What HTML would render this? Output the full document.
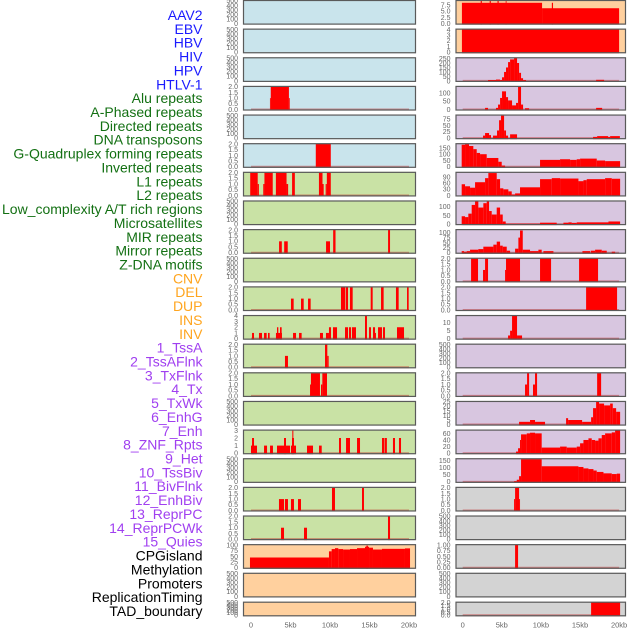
<!DOCTYPE html>
<html><head><meta charset="utf-8">
<style>
html,body{margin:0;padding:0;background:#fff;}
svg{display:block;}
</style></head>
<body>
<svg id="chart" width="630" height="630" xmlns="http://www.w3.org/2000/svg" font-family="Liberation Sans, sans-serif"></svg>
<script>
// ---- row labels ----
const labels = ["AAV2","EBV","HBV","HIV","HPV","HTLV-1","Alu repeats","A-Phased repeats","Directed repeats","DNA transposons","G-Quadruplex forming repeats","Inverted repeats","L1 repeats","L2 repeats","Low_complexity A/T rich regions","Microsatellites","MIR repeats","Mirror repeats","Z-DNA motifs","CNV","DEL","DUP","INS","INV","1_TssA","2_TssAFlnk","3_TxFlnk","4_Tx","5_TxWk","6_EnhG","7_Enh","8_ZNF_Rpts","9_Het","10_TssBiv","11_BivFlnk","12_EnhBiv","13_ReprPC","14_ReprPCWk","15_Quies","CPGisland","Methylation","Promoters","ReplicationTiming","TAD_boundary"];
const labelGroups = [6,13,5,15,5];
const groupColors = ["#1a1aff","#137013","#ffa51f","#a03ff0","#000000"];

// ---- x axis ----
const xTickVals = [0,5,10,15,20];
const xTickLabels = ["0","5kb","10kb","15kb","20kb"];

// ---- tick sets ----
const T500 = [0,100,200,300,400,500];
const T2 = [0,0.5,1,1.5,2];

// ---- left column panels: ticks, ymax, segments [startKb,endKb,value] ----
const leftTicks = [T500,T500,T500,T2,T500,T2,T2,T500,T2,T500,T2,[0,1,2,3,4],T2,T2,T500,[0,1,2,3],T500,T2,T2,[0,25,50,75,100],T500,T500];
const leftMax = [500,500,500,2,500,2,2,500,2,500,2,4,2,2,500,3,500,2,2,100,500,500];
const leftBg = ["#c9e4ec","#c9e4ec","#c9e4ec","#c9e4ec","#c9e4ec","#c9e4ec","#c9e2a5","#c9e2a5","#c9e2a5","#c9e2a5","#c9e2a5","#c9e2a5","#c9e2a5","#c9e2a5","#c9e2a5","#c9e2a5","#c9e2a5","#c9e2a5","#c9e2a5","#ffd09e","#ffd09e","#ffd09e"];
const L4 = [[2.4,2.5,1],[2.5,4.8,2],[4.8,4.9,1]];
const L6 = [[8.2,10.1,2]];
const L7 = [[-0.1,0.85,2],[0.85,1.0,1],[1.55,1.7,1],[1.7,2.75,2],[3.15,4.5,2],[4.5,4.7,1],[5.2,5.55,2],[8.6,9.05,2],[9.05,9.2,1],[9.45,9.6,1],[9.6,10.1,2]];
const L9 = [[3.55,3.9,1],[4.2,4.65,1],[9.5,10,1],[10.4,10.7,2],[17.35,17.6,2]];
const L11 = [[5.06,5.4,1],[6.33,6.67,1],[7.22,7.55,1],[11.39,11.9,2],[11.98,12.28,2],[12.53,12.87,2],[15.15,15.4,2],[16.46,16.79,2],[18.35,18.69,2],[19.75,19.96,2]];
const L12 = [[0.13,0.38,1],[1.01,1.39,1],[1.65,1.98,1],[2.15,2.36,1],[3.16,3.92,1],[3.29,3.46,2],[3.67,3.88,2],[5.32,5.7,1],[6.08,6.41,1],[8.73,9.11,1],[9.49,9.87,1],[9.87,10.13,2],[10.38,10.89,2],[11.9,12.28,2],[12.4,12.66,2],[12.78,13.29,2],[14.43,14.68,4],[14.94,15.19,2],[15.44,15.7,2],[15.7,15.82,1],[16.08,16.58,2],[16.71,16.96,2],[18.48,19.37,2]];
const L13 = [[4.3,4.68,1],[9.37,9.66,2],[9.66,9.83,1]];
const L14 = [[7.47,7.59,1],[7.59,8.73,2],[8.86,9.03,1],[9.03,9.62,2]];
const L16 = [[0,0.76,1],[0.13,0.38,2],[1.65,2.03,1],[2.41,2.78,1],[3.29,4.94,1],[4.18,4.43,2],[5.06,5.7,1],[5.19,5.44,2],[5.23,5.36,3],[7.09,7.85,1],[8.61,8.95,1],[11.14,11.39,2],[12.03,12.53,2],[13.42,13.8,2],[16.58,16.84,2],[16.9,17.2,2],[17.97,18.23,2],[18.73,18.99,2]];
const L18 = [[3.54,4.18,1],[4.3,4.68,1],[5.06,5.44,1],[5.95,6.33,1],[10.25,10.63,2],[14.05,14.3,2]];
const L19 = [[3.8,4.18,1],[6.71,7.09,1],[17.34,17.6,2]];
const L20 = [[-0.13,9.87,45],[9.87,10.21,72],[10.21,10.63,82],[10.63,11.05,86],[11.05,11.65,82],[11.65,12.53,80],[12.53,13.42,82],[13.42,14.43,86],[14.43,14.94,92],[14.6,14.8,97],[14.94,15.44,88],[15.44,16.58,80],[16.58,19.49,83],[19.49,20.13,85]];
const leftSegs = [[],[],[],L4,[],L6,L7,[],L9,[],L11,L12,L13,L14,[],L16,[],L18,L19,L20,[],[]];

// ---- right column panels ----
const rightTicks = [[0,2.5,5,7.5],[0,1,2,3,4],[0,50,100,150,200,250],[0,50,100],[0,25,50,75],[0,50,100,150],[0,30,60,90],[0,50,100],[0,25,50,75,100],T2,T2,[0,5,10],T500,T2,[0,5,10,15,20,25],[0,20,40,60],[0,50,100,150],T2,T500,[0,0.25,0.5,0.75,1],T500,T2];
const rightMax = [9.2,4,255,138,89,181,112,131,113,2,2,14.4,500,2,25,69,161,2,500,1,500,2];
const rightBg = ["#ffd09e","#ffd09e","#d8c6e0","#d8c6e0","#d8c6e0","#d8c6e0","#d8c6e0","#d8c6e0","#d8c6e0","#d8c6e0","#d8c6e0","#d8c6e0","#d8c6e0","#d8c6e0","#d8c6e0","#d8c6e0","#d8c6e0","#d3d3d3","#d3d3d3","#d3d3d3","#d3d3d3","#d3d3d3"];
const R1 = [[-0.1,10.15,8.4],[10.15,20,6.2],[2.3,2.45,9.2],[3.45,3.6,9.2],[4.45,4.6,9.2],[5.5,5.6,9.2],[11.4,11.55,8.4]];
const R2 = [[-0.1,20,4]];
const R3 = [[3.24,4.26,10],[4.26,4.78,15],[4.78,5.03,10],[5.03,5.29,40],[5.29,5.54,100],[5.54,5.8,150],[5.8,6.06,210],[6.06,6.57,240],[6.57,6.95,255],[6.95,7.21,200],[7.21,7.46,90],[7.46,7.72,30],[7.72,8.1,10],[17.06,18.08,12]];
const R4 = [[2.86,3.24,10],[4.26,4.52,10],[4.52,4.78,30],[4.78,5.03,70],[5.03,5.54,110],[5.54,5.8,75],[5.8,6.31,55],[6.31,6.82,25],[6.82,7.08,40],[7.08,7.46,138],[7.46,7.72,30],[7.97,8.49,8],[17.06,17.83,10]];
const R5 = [[2.6,2.86,10],[2.86,3.37,20],[3.37,3.62,12],[3.88,4.39,10],[4.39,4.65,30],[4.65,4.9,70],[4.9,5.29,88],[5.29,5.54,30],[5.54,5.8,10],[6.06,6.95,15],[16.67,17.19,5],[17.19,18.59,8],[18.59,18.85,5],[18.85,20.1,8]];
const R6 = [[-0.13,0.3,175],[0.3,0.81,180],[0.81,1.36,165],[1.36,1.79,140],[1.79,2.22,110],[2.22,3.07,100],[3.07,4.56,70],[4.56,4.99,40],[4.99,5.42,10],[9.89,12.45,55],[12.45,13.73,60],[13.73,14.58,55],[14.58,15.01,60],[15.01,17.14,65],[17.14,18.21,50],[18.21,20.13,45]];
const R7 = [[-0.13,0.3,55],[0.3,0.94,45],[0.94,1.58,38],[1.58,2.86,65],[2.86,3.28,85],[3.28,4.35,110],[4.35,4.78,80],[4.78,5.2,35],[5.2,5.84,30],[5.84,6.27,20],[6.27,6.7,5],[6.7,7.33,10],[7.33,9.89,40],[9.89,11.39,80],[11.39,12.45,85],[12.45,14.8,83],[14.8,15.44,70],[15.44,15.86,75],[15.86,18.21,80],[18.21,19.06,85],[19.06,20.13,82]];
const R8 = [[-0.13,0.3,45],[0.3,0.72,40],[0.72,1.15,60],[1.15,1.58,110],[1.58,2.0,130],[2.0,2.64,95],[2.64,3.07,120],[3.07,3.37,130],[3.37,3.71,75],[3.71,4.35,55],[4.35,4.78,95],[4.78,5.12,55],[5.12,5.5,15],[5.5,9.89,2],[9.89,12.02,8],[12.88,13.52,8],[13.52,13.94,10],[13.94,14.58,7],[14.58,18.64,10],[18.64,20.13,15]];
const R9 = [[-0.13,0.17,8],[0.17,0.51,5],[0.51,0.94,8],[0.94,2.0,15],[2.0,2.64,18],[2.64,3.92,30],[3.92,4.35,40],[4.35,4.78,55],[4.78,5.12,35],[5.12,5.63,30],[5.63,6.06,10],[6.7,7.12,20],[7.12,7.33,75],[7.33,7.68,110],[7.68,8.61,15],[8.61,9.68,8],[9.68,10.1,15],[10.32,11.6,8],[15.31,16.29,8],[16.38,16.93,10],[16.93,17.78,15],[17.78,18.42,10],[19.06,19.49,5]];
const R10 = [[1.07,1.96,2],[2.6,2.86,1],[2.86,3.24,2],[5.42,5.54,1],[5.54,7.33,2],[9.89,11.3,2],[14.88,17.31,2]];
const R11 = [[15.78,19.74,2]];
const R12 = [[5.8,6.06,2],[6.06,6.31,5],[6.31,6.95,14.4],[6.95,7.59,2]];
const R14 = [[7.97,8.23,1],[8.23,8.49,2],[8.99,9.25,1],[9.25,9.51,2],[17.19,17.7,2]];
const R15 = [[7.21,8.61,3],[8.61,9.25,5],[9.25,10.53,3],[13.22,13.48,7],[13.48,15.27,5],[15.27,16.42,3],[16.42,16.67,8],[16.67,17.06,18],[17.06,17.44,25],[17.44,18.08,23],[18.08,18.85,21],[18.85,19.19,23],[19.19,19.62,18],[19.62,20.13,14]];
const R16 = [[6.82,7.08,5],[7.08,7.33,15],[7.33,7.46,40],[7.46,8.19,57],[8.19,8.61,60],[8.61,9.25,62],[9.25,10.1,60],[10.1,12.45,17],[12.45,13.3,20],[13.3,14.58,17],[14.58,15.01,20],[15.01,15.44,30],[15.44,16.08,40],[16.08,16.5,45],[16.5,16.93,40],[16.93,17.36,38],[17.36,17.78,45],[17.78,18.21,55],[18.21,19.06,60],[19.06,19.49,63],[19.49,20.13,69]];
const R17 = [[6.57,6.91,5],[6.91,7.21,15],[7.21,7.46,40],[7.46,10.1,160],[10.1,14.8,110],[14.8,15.44,105],[15.44,16.08,95],[16.08,16.72,90],[16.72,17.14,80],[17.14,18,70],[18,19.06,60],[19.06,19.7,55],[19.7,20.13,58]];
const R18 = [[6.57,6.7,1],[6.7,7.21,2],[7.21,7.33,1]];
const R20 = [[6.7,7.08,1]];
const R22 = [[16.42,20.13,2]];
const rightSegs = [R1,R2,R3,R4,R5,R6,R7,R8,R9,R10,R11,R12,[],R14,R15,R16,R17,R18,[],R20,[],R22];

// ---- layout ----
const NS = "http://www.w3.org/2000/svg";
const svg = document.getElementById('chart');
function mk(tag, attrs, parent){
  const e = document.createElementNS(NS, tag);
  for (const k in attrs) e.setAttribute(k, attrs[k]);
  (parent||svg).appendChild(e);
  return e;
}
const cols = [
  {x0:243, x1:416, xs: kb => 251 + kb*7.9, tickRight:238, ticks:leftTicks, max:leftMax, bg:leftBg, segs:leftSegs, name:'left'},
  {x0:455.5, x1:626, xs: kb => 462.7 + kb*7.82, tickRight:450.5, ticks:rightTicks, max:rightMax, bg:rightBg, segs:rightSegs, name:'right'}
];
function rowTop(i){ return i===21 ? 601.7 : i*28.64; }
function rowH(i){ return i===21 ? 14.6 : 24.6; }
function fmt(v, ticks){
  const step = ticks[1]-ticks[0];
  if (step < 0.5) return v.toFixed(2);
  if (step % 1 !== 0 || ticks.some(t => t%1!==0)) return v.toFixed(1);
  return String(v);
}

// labels
let li = 0;
labelGroups.forEach((n, g) => {
  for (let k = 0; k < n; k++, li++) {
    const t = mk('text', {x:202.5, y:(15 + li*13.86 + 5).toFixed(1), 'text-anchor':'end', 'font-size':14, fill:groupColors[g]});
    
    
    t.textContent = labels[li];
  }
});

cols.forEach(c => {
  for (let i = 0; i < 22; i++) {
    const top = rowTop(i), h = rowH(i);
    const g = mk('g', {});
    
    
    const bgr = mk('rect', {x:c.x0, y:top, width:c.x1-c.x0, height:h, fill:c.bg[i]}, g);
    
    
    const ymax = c.max[i];
    const ys = v => top + h - 1 - (v/ymax)*(h-1.8);
    const segs = c.segs[i];
    if (segs.length) {
      const bl = mk('line', {x1:c.xs(0), x2:c.xs(20), y1:ys(0), y2:ys(0), stroke:'rgba(190,30,30,0.45)', 'stroke-width':2}, g);
      
      
    }
    segs.forEach(s => {
      const x0 = c.xs(s[0]), x1 = c.xs(s[1]);
      const y = ys(s[2]);
      const r = mk('rect', {x:x0.toFixed(2), y:y.toFixed(2), width:Math.max(0.8, x1-x0).toFixed(2), height:(ys(0)-y+1).toFixed(2), fill:'#ff0000'}, g);
      
      
    });
    const border = mk('rect', {x:c.x0+0.5, y:top+0.5, width:c.x1-c.x0-1, height:h-1, fill:'none', stroke:'#5a5a5a', 'stroke-width':1.2}, g);
    
    
    const tks = c.ticks[i];
    tks.forEach(t => {
      const tl = mk('text', {x:c.tickRight, y:(ys(t)+2.4).toFixed(1), 'text-anchor':'end', 'font-size':7, fill:'#666'}, g);
      
      
      tl.textContent = fmt(t, tks);
    });
  }
  xTickVals.forEach((v, k) => {
    const t = mk('text', {x:c.xs(v).toFixed(1), y:627.5, 'text-anchor':'middle', 'font-size':7.5, fill:'#666'});
    
    
    t.textContent = xTickLabels[k];
  });
});
</script>
</body></html>
